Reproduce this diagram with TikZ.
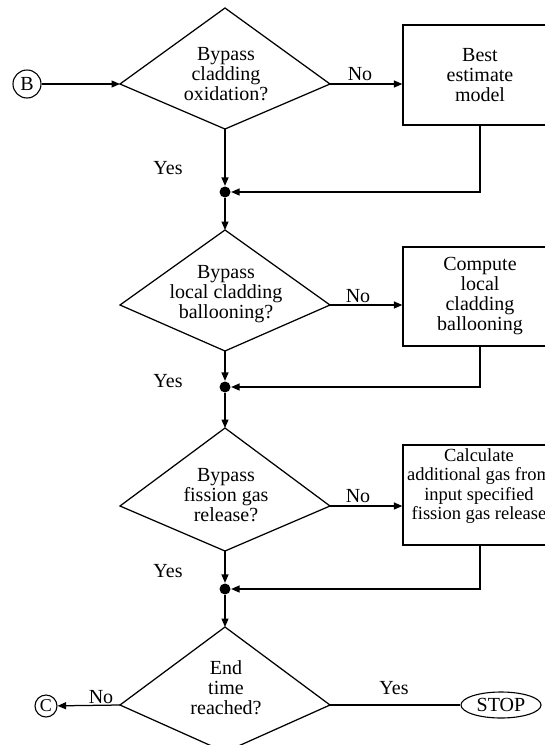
\documentclass[tikz,border=0pt]{standalone}
\usepackage{fontspec}
\setmainfont{Liberation Serif}
\usetikzlibrary{arrows.meta,shapes.geometric}
\begin{document}
\begin{tikzpicture}[x=1pt,y=-1pt,
  line width=1.25pt,
  flow/.style={-{Triangle[length=8.5pt,width=7pt]}},
  txt/.style={align=center,font=\fontsize{20}{20}\selectfont,inner sep=0pt},
  smalltxt/.style={align=center,font=\fontsize{18.5}{19.5}\selectfont,inner sep=0pt},
  lbl/.style={font=\fontsize{20}{20}\selectfont,inner sep=0pt},
  box/.style={draw,minimum width=154pt,minimum height=100pt,inner sep=0pt,align=center,font=\fontsize{20}{20}\selectfont},
  dot/.style={circle,fill=black,inner sep=0pt,minimum size=11pt},
  conn/.style={circle,draw,inner sep=0pt,line width=1.1pt}
]
\useasboundingbox (0,0) rectangle (545,745);
\begin{scope}
\clip (0,0) rectangle (545,745);

% decision 1
\coordinate (d1t) at (225,8);
\coordinate (d1l) at (120,84);
\coordinate (d1r) at (330,84);
\coordinate (d1b) at (225,129);
\draw (d1t) -- (d1r) -- (d1b) -- (d1l) -- cycle;
\node[txt] (q1) at (226,74) {Bypass\\cladding\\oxidation?};

% decision 2
\coordinate (d2t) at (225,230);
\coordinate (d2l) at (120,305);
\coordinate (d2r) at (330,305);
\coordinate (d2b) at (225,351);
\draw (d2t) -- (d2r) -- (d2b) -- (d2l) -- cycle;
\node[txt] (q2) at (226,294) {Bypass\\local cladding\\ballooning?};

% decision 3
\coordinate (d3t) at (225,428);
\coordinate (d3l) at (120,506);
\coordinate (d3r) at (330,506);
\coordinate (d3b) at (225,551);
\draw (d3t) -- (d3r) -- (d3b) -- (d3l) -- cycle;
\node[txt] (q3) at (226,495) {Bypass\\fission gas\\release?};

% decision 4
\coordinate (d4t) at (225,627);
\coordinate (d4l) at (120,705);
\coordinate (d4r) at (330,705);
\coordinate (d4b) at (225,752);
\draw (d4t) -- (d4r) -- (d4b) -- (d4l) -- cycle;
\node[txt] (q4) at (226,688) {End\\time\\reached?};

% process boxes
\node[box] (b1) at (480,75) {Best\\estimate\\model};
\node[box,minimum height=99pt] (b2) at (480,296.5) {Compute\\local\\cladding\\ballooning};
\node[box] (b3) at (480,495) {};
\node[smalltxt] (b3t) at (479,486) {Calculate\\additional gas from\\input specified\\fission gas release};

% junctions
\node[dot] (j1) at (225,192) {};
\node[dot] (j2) at (225,387) {};
\node[dot] (j3) at (225,589) {};

% connectors
\node[conn,minimum size=28pt,font=\fontsize{20}{20}\selectfont] (cb) at (27,84) {B};
\draw[flow] (cb) -- (d1l);
\draw[flow] (d1r) -- (d1r -| b1.west);
\draw[flow] (d1b) -- (j1);
\draw[flow] (b1.south) |- (j1);
\draw[flow] (j1) -- (d2t);

\draw[flow] (d2r) -- (d2r -| b2.west);
\draw[flow] (d2b) -- (j2);
\draw[flow] (b2.south) |- (j2);
\draw[flow] (j2) -- (d3t);

\draw[flow] (d3r) -- (d3r -| b3.west);
\draw[flow] (d3b) -- (j3);
\draw[flow] (b3.south) |- (j3);
\draw[flow] (j3) -- (d4t);

\node[conn,minimum size=22pt,font=\fontsize{18}{18}\selectfont] (cc) at (46,706) {C};
\draw[flow] (d4l) -- (cc);
\node[ellipse,draw,minimum width=80pt,minimum height=26pt,inner sep=0pt,line width=1.1pt,font=\fontsize{20}{20}\selectfont] (stop) at (501,705) {STOP};
\draw[line width=1.7pt] (d4r) -- (stop);

% branch labels
\node[lbl] (no1) at (360,74) {No};
\node[lbl] (no2) at (358,296) {No};
\node[lbl] (no3) at (358,496) {No};
\node[lbl] (no4) at (101,697) {No};
\node[lbl] (yes1) at (168,168) {Yes};
\node[lbl] (yes2) at (168,381) {Yes};
\node[lbl] (yes3) at (168,571) {Yes};
\node[lbl] (yes4) at (394,688) {Yes};
\end{scope}
\end{tikzpicture}
\end{document}
